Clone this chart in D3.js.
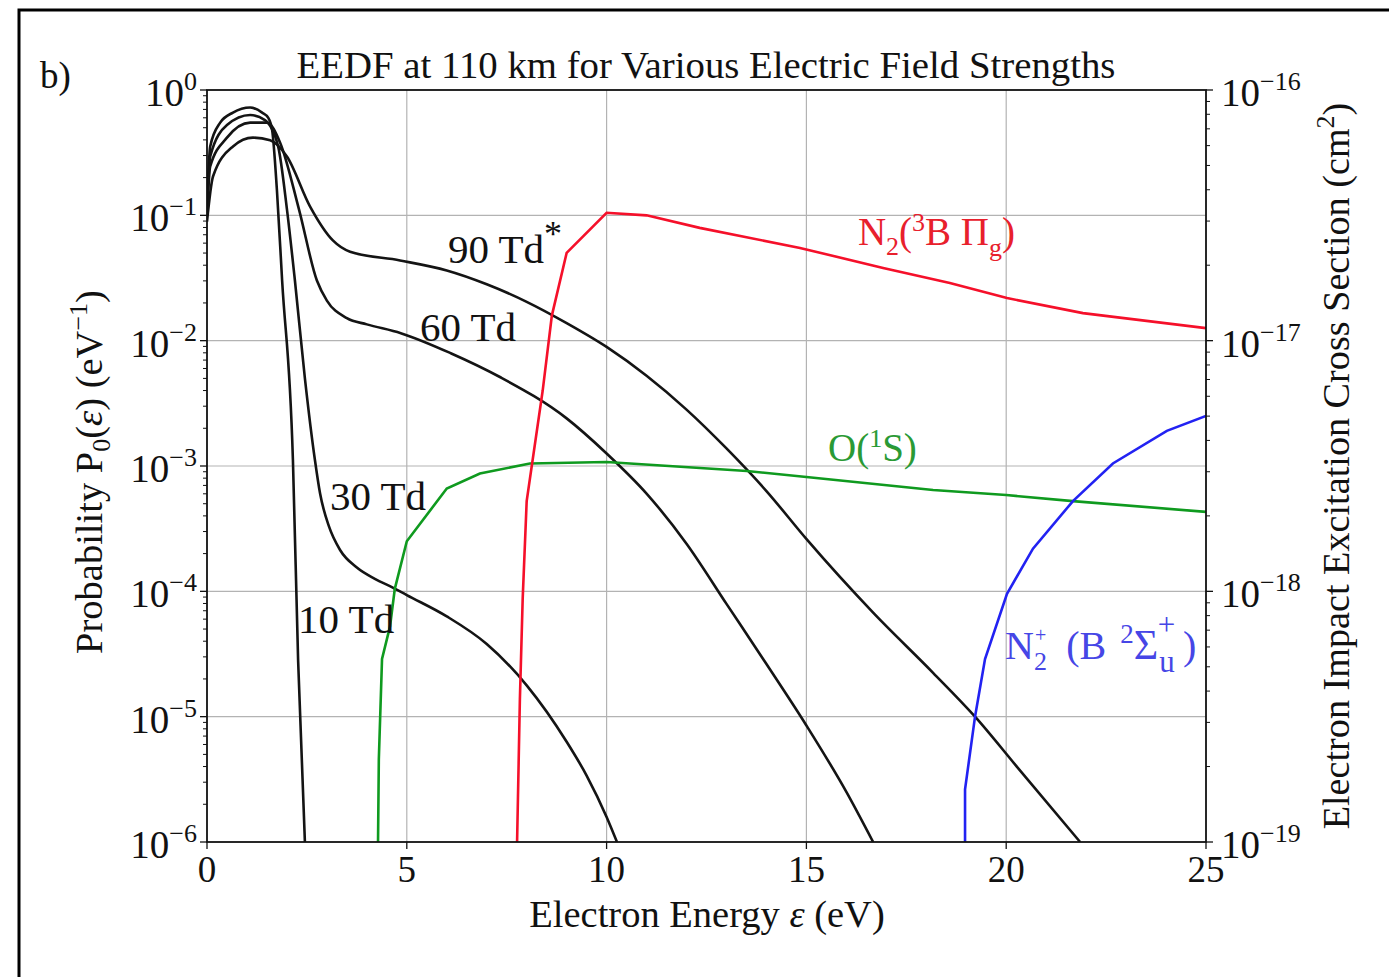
<!DOCTYPE html>
<html>
<head>
<meta charset="utf-8">
<script src="https://cdn.jsdelivr.net/npm/d3@7"></script>
<style>
  html, body { margin: 0; padding: 0; background: #fff; }
  svg { display: block; }
  text { font-family: "Liberation Serif", "DejaVu Serif", serif; fill: #111; }
</style>
</head>
<body>
<svg id="chart" width="1389" height="977"></svg>
<script>
// ---------------- data ----------------
// EEDF curves, left axis (probability, eV^-1); energies in eV, values as log10
const e10 = [0, 0.08, 0.33, 0.65, 1.08, 1.38, 1.53, 1.63, 1.75, 1.88, 2.15, 2.28, 2.45];
const logP10 = [-0.92, -0.45, -0.26, -0.18, -0.14, -0.18, -0.22, -0.32, -0.8, -1.52, -2.95, -4.55, -6.0];

const e30 = [0, 0.08, 0.5, 1.08, 1.45, 1.78, 2.0, 2.2, 2.45, 2.7, 2.83, 3.05, 3.33, 3.75, 4.2, 4.65, 5.0, 6.0, 7.0, 8.0, 9.0, 9.5, 10.0, 10.26];
const logP30 = [-0.96, -0.53, -0.28, -0.2, -0.24, -0.45, -0.95, -1.52, -2.3, -2.95, -3.22, -3.48, -3.67, -3.81, -3.9, -3.97, -4.03, -4.2, -4.42, -4.75, -5.2, -5.47, -5.8, -6.0];

const e60 = [0, 0.08, 0.5, 1.08, 1.5, 1.83, 2.3, 2.75, 3.0, 3.5, 4.0, 4.85, 6.1, 7.33, 9.0, 10.0, 11.0, 12.0, 13.0, 14.0, 15.0, 16.0, 16.67];
const logP60 = [-1.0, -0.61, -0.38, -0.26, -0.26, -0.42, -0.95, -1.52, -1.68, -1.82, -1.87, -1.94, -2.10, -2.29, -2.62, -2.9, -3.22, -3.62, -4.1, -4.58, -5.07, -5.6, -6.0];

const e90 = [0, 0.15, 0.65, 1.15, 1.58, 2.0, 2.58, 3.15, 3.58, 4.83, 6.0, 7.0, 8.0, 9.0, 10.0, 11.0, 12.0, 13.0, 14.0, 15.02, 16.67, 18.17, 19.22, 20.27, 21.85];
const logP90 = [-1.05, -0.69, -0.45, -0.38, -0.40, -0.53, -0.93, -1.2, -1.29, -1.36, -1.44, -1.55, -1.69, -1.86, -2.05, -2.28, -2.55, -2.86, -3.2, -3.59, -4.17, -4.65, -5.0, -5.40, -6.0];

// Cross sections, right axis (cm^2), values as log10
const eN2 = [7.76, 7.83, 7.9, 8.0, 8.4, 8.63, 9.0, 10.0, 11.0, 12.33, 14.84, 16.92, 18.59, 20.02, 21.92, 25];
const logSigN2 = [-19, -18.43, -18.03, -17.64, -17.2, -16.9, -16.65, -16.49, -16.50, -16.55, -16.63, -16.71, -16.77, -16.83, -16.89, -16.95];

const eO1S = [4.28, 4.3, 4.38, 4.58, 4.70, 5.0, 6.0, 6.83, 8.08, 10, 13.51, 15, 18.17, 20, 21.67, 25];
const logSigO1S = [-19, -18.67, -18.27, -18.14, -17.99, -17.80, -17.59, -17.53, -17.49, -17.484, -17.52, -17.544, -17.596, -17.616, -17.64, -17.683];

const eN2p = [18.97, 18.97, 19.22, 19.47, 20.02, 20.67, 21.67, 22.67, 24.02, 25];
const logSigN2p = [-19, -18.79, -18.50, -18.27, -18.01, -17.83, -17.64, -17.49, -17.36, -17.30];

// tick values
const xTicks = [0, 5, 10, 15, 20, 25];
const leftExponents = [0, -1, -2, -3, -4, -5, -6];
const rightExponents = [-16, -17, -18, -19];

// ---------------- layout ----------------
const svg = d3.select("#chart");
const L = 207, T = 90, R = 1206, B = 842;
const x = d3.scaleLinear().domain([0, 25]).range([L, R]);
const yL = d3.scaleLog().domain([1e-6, 1]).range([B, T]);
const yR = d3.scaleLog().domain([1e-19, 1e-16]).range([B, T]);

// outer frame
svg.append("path").attr("d", `M19,977 V10 H1389`).attr("fill", "none")
  .attr("stroke", "#000").attr("stroke-width", 3);

// clip
svg.append("defs").append("clipPath").attr("id", "clip")
  .append("rect").attr("x", L).attr("y", T).attr("width", R - L).attr("height", B - T);

// grid
const grid = svg.append("g").attr("stroke", "#b3b3b3").attr("stroke-width", 1.2);
[5, 10, 15, 20].forEach(v => grid.append("line").attr("x1", x(v)).attr("x2", x(v)).attr("y1", T).attr("y2", B));
[-1, -2, -3, -4, -5].forEach(k => grid.append("line").attr("x1", L).attr("x2", R).attr("y1", yL(Math.pow(10, k))).attr("y2", yL(Math.pow(10, k))));

// lines
const toPts = (es, ls) => es.map((e, i) => [e, Math.pow(10, ls[i])]);
const lineL = d3.line().x(d => x(d[0])).y(d => yL(d[1])).curve(d3.curveMonotoneX);
const lineR = d3.line().x(d => x(d[0])).y(d => yR(d[1])).curve(d3.curveLinear);
const plot = svg.append("g").attr("clip-path", "url(#clip)");
const black = [[e10, logP10], [e30, logP30], [e60, logP60], [e90, logP90]];
black.forEach(([es, ls]) => plot.append("path").attr("d", lineL(toPts(es, ls)))
  .attr("fill", "none").attr("stroke", "#141414").attr("stroke-width", 2.6));
plot.append("path").attr("d", lineR(toPts(eO1S, logSigO1S))).attr("fill", "none").attr("stroke", "#0f9a1f").attr("stroke-width", 2.6);
plot.append("path").attr("d", lineR(toPts(eN2, logSigN2))).attr("fill", "none").attr("stroke", "#f5102a").attr("stroke-width", 2.6);
plot.append("path").attr("d", lineR(toPts(eN2p, logSigN2p))).attr("fill", "none").attr("stroke", "#2222f2").attr("stroke-width", 2.6);

// frame of axes
svg.append("rect").attr("x", L).attr("y", T).attr("width", R - L).attr("height", B - T)
  .attr("fill", "none").attr("stroke", "#111").attr("stroke-width", 1.8);

// ticks
const tk = svg.append("g").attr("stroke", "#111").attr("stroke-width", 1.3);
xTicks.forEach(v => tk.append("line").attr("x1", x(v)).attr("x2", x(v)).attr("y1", B).attr("y2", B + 7));
for (let d = -6; d <= 0; d++) {
  tk.append("line").attr("x1", L - 7).attr("x2", L).attr("y1", yL(Math.pow(10, d))).attr("y2", yL(Math.pow(10, d)));
  if (d < 0) for (let m = 2; m <= 9; m++) {
    const yy = yL(m * Math.pow(10, d));
    tk.append("line").attr("x1", L - 4).attr("x2", L).attr("y1", yy).attr("y2", yy).attr("stroke-width", 1);
  }
}
for (let d = -19; d <= -16; d++) {
  tk.append("line").attr("x1", R).attr("x2", R + 7).attr("y1", yR(Math.pow(10, d))).attr("y2", yR(Math.pow(10, d)));
  if (d < -16) for (let m = 2; m <= 9; m++) {
    const yy = yR(m * Math.pow(10, d));
    tk.append("line").attr("x1", R).attr("x2", R + 4).attr("y1", yy).attr("y2", yy).attr("stroke-width", 1);
  }
}

// tick labels
xTicks.forEach(v => svg.append("text").attr("x", x(v)).attr("y", B + 40)
  .attr("text-anchor", "middle").attr("font-size", 37).text(v));

function powLabel(g, px, py, exp, anchor) {
  const t = g.append("text").attr("x", px).attr("y", py).attr("text-anchor", anchor).attr("font-size", 39);
  t.append("tspan").text("10");
  t.append("tspan").attr("dy", -16).attr("font-size", 26).text(exp === 0 ? "0" : "\u2212" + Math.abs(exp));
  return t;
}
leftExponents.forEach(k => powLabel(svg, L - 10, yL(Math.pow(10, k)) + 16, k, "end"));
rightExponents.forEach(k => powLabel(svg, R + 15, yR(Math.pow(10, k)) + 16, k, "start"));

// title & panel letter
svg.append("text").attr("x", 706).attr("y", 78).attr("text-anchor", "middle").attr("font-size", 38.8)
  .text("EEDF at 110 km for Various Electric Field Strengths");
svg.append("text").attr("x", 40).attr("y", 88).attr("font-size", 37).text("b)");

// axis labels
const xl = svg.append("text").attr("x", 707).attr("y", 927).attr("text-anchor", "middle").attr("font-size", 38.5);
xl.append("tspan").text("Electron Energy ");
xl.append("tspan").attr("font-style", "italic").text("\u03B5");
xl.append("tspan").text(" (eV)");

const yl = svg.append("text").attr("transform", "translate(102,472) rotate(-90)").attr("text-anchor", "middle").attr("font-size", 38.5);
yl.append("tspan").text("Probability P");
yl.append("tspan").attr("dy", 8).attr("font-size", 26).text("0");
yl.append("tspan").attr("dy", -8).text("(");
yl.append("tspan").attr("font-style", "italic").text("\u03B5");
yl.append("tspan").text(") (eV");
yl.append("tspan").attr("dy", -15).attr("font-size", 26).text("\u22121");
yl.append("tspan").attr("dy", 15).text(")");

const yr = svg.append("text").attr("transform", "translate(1349,466) rotate(-90)").attr("text-anchor", "middle").attr("font-size", 38.2);
yr.append("tspan").text("Electron Impact Excitation Cross Section (cm");
yr.append("tspan").attr("dy", -15).attr("font-size", 26).text("2");
yr.append("tspan").attr("dy", 15).text(")");

// curve annotations (anchored in data coordinates)
function ann(e, logv, scale) { return [x(e), scale(Math.pow(10, logv))]; }
const a90 = ann(6.03, -1.38, yL);
const t90 = svg.append("text").attr("x", a90[0]).attr("y", a90[1]).attr("font-size", 41);
t90.append("tspan").text("90 Td");
t90.append("tspan").attr("dy", -17).attr("font-size", 36).text("*");
[["60 Td", 5.33, -2.0], ["30 Td", 3.08, -3.35], ["10 Td", 2.28, -4.33]].forEach(([s, e, l]) => {
  const p = ann(e, l, yL);
  svg.append("text").attr("x", p[0]).attr("y", p[1]).attr("font-size", 41).text(s);
});

const pN2 = ann(16.29, -16.62, yR);
const tN2 = svg.append("text").attr("x", pN2[0]).attr("y", pN2[1]).attr("font-size", 39).style("fill", "#e8202c");
tN2.append("tspan").text("N");
tN2.append("tspan").attr("dy", 10).attr("font-size", 26).text("2");
tN2.append("tspan").attr("dy", -10).text("(");
tN2.append("tspan").attr("dy", -14).attr("font-size", 26).text("3");
tN2.append("tspan").attr("dy", 14).text("B \u03A0");
tN2.append("tspan").attr("dy", 11).attr("font-size", 26).text("g");
tN2.append("tspan").attr("dy", -11).text(")");

const pO = ann(15.54, -17.48, yR);
const tO = svg.append("text").attr("x", pO[0]).attr("y", pO[1]).attr("font-size", 39).style("fill", "#2a9a35");
tO.append("tspan").text("O(");
tO.append("tspan").attr("dy", -14).attr("font-size", 26).text("1");
tO.append("tspan").attr("dy", 14).text("S)");

const pN = ann(19.97, -18.27, yR);
const tN = svg.append("text").attr("x", pN[0]).attr("y", pN[1]).attr("font-size", 40).style("fill", "#4646e6");
tN.append("tspan").text("N");
tN.append("tspan").attr("dy", 11).attr("font-size", 26).text("2");
tN.append("tspan").attr("dy", -28).attr("dx", -12).attr("font-size", 20).text("+");
tN.append("tspan").attr("dy", 17).attr("dx", 10).text(" (B ");
tN.append("tspan").attr("dy", -16).attr("dx", 4).attr("font-size", 27).text("2");
tN.append("tspan").attr("dy", 16).attr("font-size", 42).text("\u03A3");
tN.append("tspan").attr("dy", 13).attr("dx", 1).attr("font-size", 31).text("u");
tN.append("tspan").attr("dy", -37).attr("dx", -17).attr("font-size", 31).text("+");
tN.append("tspan").attr("dy", 24).attr("dx", 8).text(")");
</script>
</body>
</html>
